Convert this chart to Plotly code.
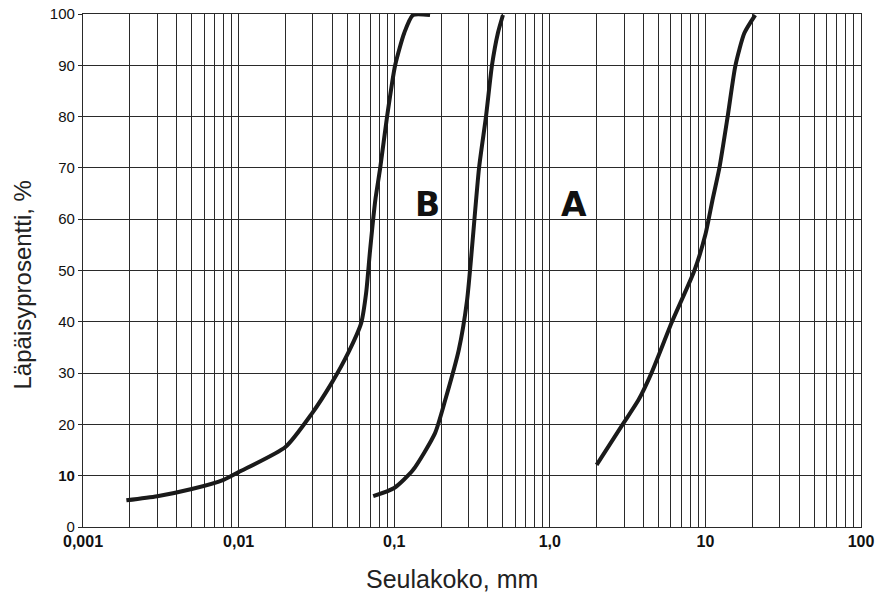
import math
import plotly.graph_objects as go

# Curve B (fine soil)
b_size = [0.0019, 0.003, 0.005, 0.008, 0.01, 0.02, 0.0294, 0.0395, 0.0507, 0.0614, 0.066, 0.070, 0.0756, 0.0813, 0.090, 0.1014, 0.116, 0.132, 0.170]
b_pass = [5.2, 6.0, 7.4, 9.2, 10.7, 15.6, 22.0, 28.0, 34.0, 39.8, 45.6, 54.0, 63.7, 70.0, 80.0, 90.0, 96.3, 99.8, 99.8]

# Middle curve
m_size = [0.0733, 0.1, 0.132, 0.183, 0.213, 0.26, 0.294, 0.351, 0.389, 0.425, 0.464, 0.50]
m_pass = [6.0, 7.6, 11.1, 18.3, 24.8, 34.5, 44.2, 70.0, 80.0, 90.0, 96.3, 99.8]

# Curve A (coarse)
a_size = [2.0, 2.94, 3.72, 4.5, 6.1, 8.5, 10.0, 11.1, 12.3, 13.9, 15.6, 17.8, 20.9]
a_pass = [12.1, 20.0, 24.8, 30.0, 40.0, 50.0, 57.0, 63.7, 70.0, 80.0, 90.0, 96.3, 99.8]

labels = ["B", "A"]
label_x = [0.164, 1.43]
label_y = [62.8, 62.8]

x_major = [0.001, 0.01, 0.1, 1, 10, 100]
x_major_text = ["0,001", "0,01", "0,1", "1,0", "10", "100"]
y_ticks = list(range(0, 101, 10))

x_vals, x_text = [], []
for d, t in zip(x_major, x_major_text):
    x_vals.append(d)
    x_text.append("<b>" + t + "</b>")
    if d < 100:
        for k in range(2, 10):
            x_vals.append(d * k)
            x_text.append("")

y_text = ["<b>10</b>" if v == 10 else str(v) for v in y_ticks]

fig = go.Figure()
line = dict(color="#1a1a1a", width=4, shape="spline", smoothing=0.6)
for xs, ys in [(b_size, b_pass), (m_size, m_pass), (a_size, a_pass)]:
    fig.add_trace(go.Scatter(x=xs, y=ys, mode="lines", line=line, showlegend=False, hoverinfo="skip"))

for t, x, y in zip(labels, label_x, label_y):
    fig.add_annotation(x=math.log10(x), y=y, xref="x", yref="y", text="<b>" + t + "</b>", showarrow=False,
                       font=dict(family="DejaVu Sans", size=33, color="#111"))

fig.add_annotation(x=0.5, y=0, xref="paper", yref="paper", text="Seulakoko, mm", showarrow=False,
                   xshift=-20, yshift=-52, yanchor="middle",
                   font=dict(family="Liberation Sans, Arial, sans-serif", size=25, color="#222"))
fig.add_annotation(x=0, y=0.5, xref="paper", yref="paper", text="Läpäisyprosentti, %", showarrow=False,
                   textangle=-90, xshift=-61, yshift=-15, xanchor="center",
                   font=dict(family="Liberation Sans, Arial, sans-serif", size=24, color="#222"))

# page body has an 8px default margin, so the figure is sized to fit the window
fig.update_layout(
    width=875, height=588,
    margin=dict(l=75, r=22, t=6, b=69),
    paper_bgcolor="white", plot_bgcolor="white",
    font=dict(family="Liberation Sans, Arial, sans-serif", color="#111"),
)
fig.update_xaxes(
    type="log", range=[-3, 2], tickvals=x_vals, ticktext=x_text,
    showgrid=True, gridcolor="#2a2a2a", gridwidth=1.3,
    showline=True, linecolor="#2a2a2a", linewidth=1.3, mirror=True,
    ticks="", tickfont=dict(size=16, color="#111"),
    zeroline=False, automargin=False, ticklabeloverflow="allow",
)
fig.update_yaxes(
    range=[0, 100], tickvals=y_ticks, ticktext=y_text,
    showgrid=True, gridcolor="#2a2a2a", gridwidth=1.3,
    showline=True, linecolor="#2a2a2a", linewidth=1.3, mirror=True,
    ticks="outside", ticklen=4, tickcolor="#2a2a2a", tickfont=dict(size=15, color="#111"),
    zeroline=False, automargin=False, ticklabeloverflow="allow",
)

fig.write_html("out.html")
